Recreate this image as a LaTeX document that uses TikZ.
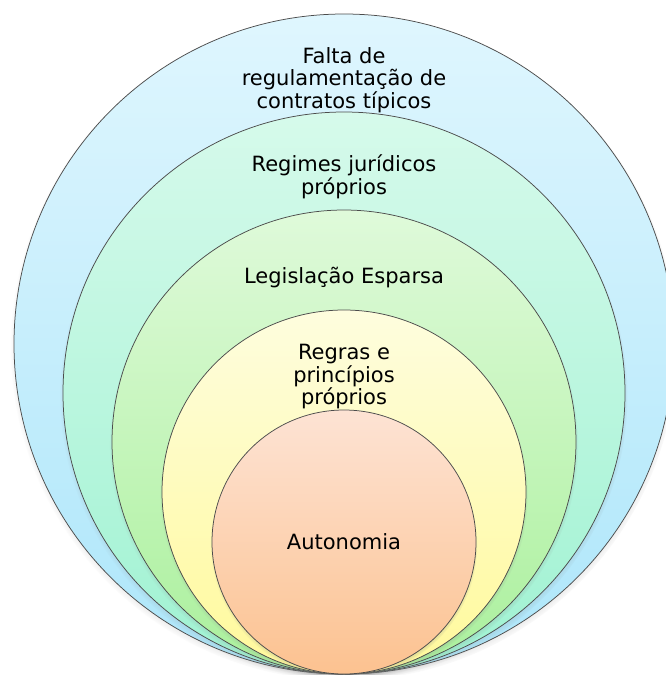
\documentclass[tikz,border=0pt]{standalone}
\usepackage{fontspec}
\setmainfont{DejaVu Sans}
\usetikzlibrary{positioning,shadows}

\definecolor{bluetop}{HTML}{DFF6FE}
\definecolor{bluebot}{HTML}{ADE6FA}
\definecolor{minttop}{HTML}{D6FAEB}
\definecolor{mintbot}{HTML}{9FF2D2}
\definecolor{greentop}{HTML}{DFFADA}
\definecolor{greenbot}{HTML}{AAF09C}
\definecolor{yellowtop}{HTML}{FEFDDE}
\definecolor{yellowbot}{HTML}{FFF99B}
\definecolor{peachtop}{HTML}{FDE3D4}
\definecolor{peachbot}{HTML}{FCC290}

\begin{document}
\begin{tikzpicture}[x=1pt,y=-1pt]
    \tikzset{
      ringnode/.style={circle,draw=black!70,line width=0.75pt,inner sep=0pt,
        circular drop shadow={shadow xshift=0pt,shadow yshift=-3pt,shadow scale=1.01}},
      ringlabel/.style={inner sep=0pt,align=center,font=\fontsize{21}{22.6}\selectfont}
    }
    \useasboundingbox (0,0) rectangle (665,675);

    % rings, all touching at the bottom
    \node[ringnode,minimum size=660pt,top color=bluetop,bottom color=bluebot](falta) at (344,344){};
    \node[ringnode,minimum size=562pt,top color=minttop,bottom color=mintbot](regimes) at (344,393){};
    \node[ringnode,minimum size=464pt,top color=greentop,bottom color=greenbot](legis) at (344,442){};
    \node[ringnode,minimum size=364pt,top color=yellowtop,bottom color=yellowbot](regras) at (344,492){};
    \node[ringnode,minimum size=264pt,top color=peachtop,bottom color=peachbot](auto) at (344,542){};

    \node[ringlabel,below=33.3pt of falta.north](faltatext){Falta de\\regulamentação de\\contratos típicos};
    \node[ringlabel,below=43.3pt of regimes.north](regimestext){Regimes jurídicos\\próprios};
    \node[ringlabel,below=57pt of legis.north](legistext){Legislação Esparsa};
    \node[ringlabel,below=34.6pt of regras.north](regrastext){Regras e\\princípios\\próprios};
    \node[ringlabel](autotext) at (auto){Autonomia};

\end{tikzpicture}
\end{document}
